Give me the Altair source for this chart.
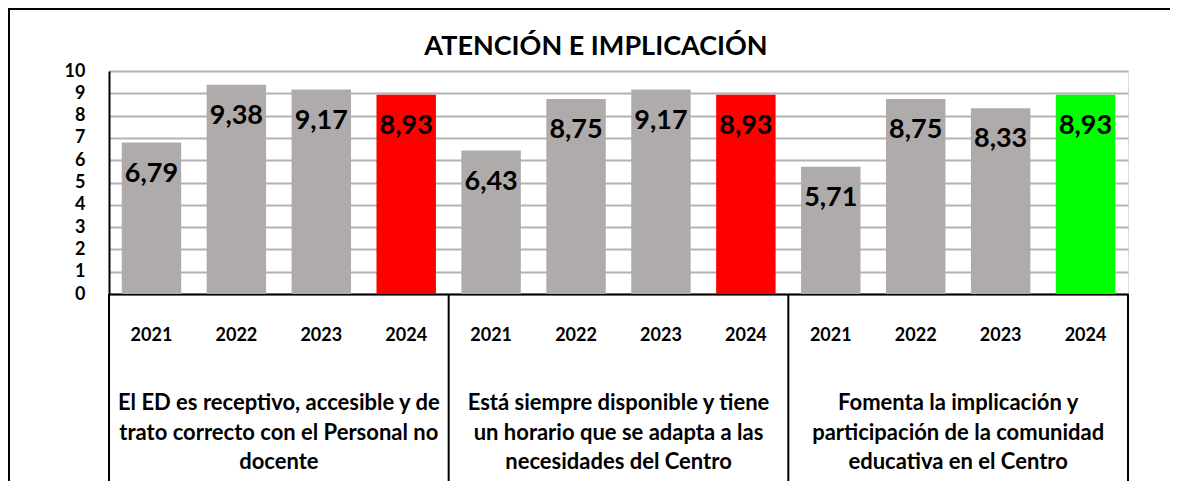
import altair as alt
import pandas as pd

# ---------------- data ----------------
chart_title = "ATENCIÓN E IMPLICACIÓN"
years = ["2021", "2022", "2023", "2024"]
groups = [
    "El ED es receptivo, accesible y de\ntrato correcto con el Personal no\ndocente",
    "Está siempre disponible y tiene\nun horario que se adapta a las\nnecesidades del Centro",
    "Fomenta la implicación y\nparticipación de la comunidad\neducativa en el Centro",
]
values_g1 = [6.79, 9.38, 9.17, 8.93]
values_g2 = [6.43, 8.75, 9.17, 8.93]
values_g3 = [5.71, 8.75, 8.33, 8.93]
status_2024 = ["rojo", "rojo", "verde"]
y_ticks = list(range(0, 11))

all_values = [values_g1, values_g2, values_g3]

# ---------------- layout ----------------
W, H = 1019, 223
PAD_L, PAD_T, PAD_R, PAD_B = 101, 63, 42, 187
FONT = "Lato"

rows = []
for gi, (g, vals) in enumerate(zip(groups, all_values)):
    for yr, v in zip(years, vals):
        rows.append({
            "key": f"{gi}|{yr}",
            "year": yr,
            "value": v,
            "estado": status_2024[gi] if yr == years[-1] else "anterior",
        })
df = pd.DataFrame(rows)
keys = list(df["key"])

# group boundaries and centres (in units of categories)
bounds, centers, labels = [0], [], []
start = 0
for g, vals in zip(groups, all_values):
    n = len(vals)
    centers.append(start + n / 2)
    labels.append(g)
    start += n
    bounds.append(start)
n_total = start

df_bounds = pd.DataFrame({"pos": bounds})
df_groups = pd.DataFrame({"pos": centers, "label": labels})

x_band = alt.X(
    "key:N",
    sort=keys,
    scale=alt.Scale(paddingInner=0.3, paddingOuter=0.15),
    axis=alt.Axis(
        title=None,
        labelExpr="split(datum.value, '|')[1]",
        labelAngle=0,
        labelFont=FONT,
        labelFontSize=18,
        labelFontWeight="bold",
        labelColor="black",
        labelPadding=32,
        ticks=False,
        domainColor="black",
        domainWidth=2,
        grid=False,
    ),
)
y_lin = alt.Y(
    "value:Q",
    scale=alt.Scale(domain=[0, 10]),
    axis=alt.Axis(
        title=None,
        values=y_ticks,
        labelOverlap=False,
        labelFont=FONT,
        labelFontSize=18,
        labelFontWeight="bold",
        labelColor="black",
        labelPadding=24,
        ticks=False,
        domainColor="black",
        domainWidth=2,
        gridColor="#b3b3b3",
        gridWidth=2,
    ),
)

bars = alt.Chart(df).mark_bar().encode(
    x=x_band,
    y=y_lin,
    color=alt.Color(
        "estado:N",
        scale=alt.Scale(domain=["anterior", "rojo", "verde"],
                        range=["#afabab", "#ff0000", "#00ff00"]),
        legend=None,
    ),
)

texts = alt.Chart(df).transform_calculate(
    lbl="replace(format(datum.value, '.2f'), '.', ',')"
).mark_text(
    font=FONT, fontSize=27, fontWeight="bold", color="black",
    baseline="middle", dy=31,
).encode(
    x=x_band,
    y=y_lin,
    text="lbl:N",
)

main = alt.layer(bars, texts)

qx = alt.Scale(domain=[0, n_total])

separators = alt.Chart(df_bounds).mark_rule(color="black", strokeWidth=2).encode(
    x=alt.X("pos:Q", scale=qx, axis=None),
    y=alt.value(H),
    y2=alt.value(H + PAD_B),
)

group_text = alt.Chart(df_groups).transform_calculate(
    lines="split(datum.label, '\\n')"
).mark_text(
    font=FONT, fontSize=22, fontWeight="bold", color="black",
    baseline="middle", align="center", lineHeight=29.5,
).encode(
    x=alt.X("pos:Q", scale=qx, axis=None),
    y=alt.value(332),
    text="lines:N",
)

title_df = pd.DataFrame({"t": [chart_title]})
title_text = alt.Chart(title_df).mark_text(
    font=FONT, fontSize=27, fontWeight="bold", color="black",
    baseline="middle", align="center",
).encode(
    x=alt.value(487),
    y=alt.value(-24),
    text="t:N",
)

frame_df = pd.DataFrame({"d": [0]})
frame_top = alt.Chart(frame_df).mark_rule(color="black", strokeWidth=2).encode(
    x=alt.value(-PAD_L),
    x2=alt.value(W + PAD_R),
    y=alt.value(-PAD_T + 1),
)
frame_left = alt.Chart(frame_df).mark_rule(color="black", strokeWidth=2).encode(
    x=alt.value(-PAD_L + 1),
    y=alt.value(-PAD_T),
    y2=alt.value(H + PAD_B),
)

chart = alt.layer(
    main, separators, group_text, title_text, frame_top, frame_left
).resolve_scale(
    x="independent"
).properties(
    width=W,
    height=H,
    padding={"left": PAD_L, "top": PAD_T, "right": PAD_R, "bottom": PAD_B},
    autosize=alt.AutoSizeParams(type="none"),
).configure_view(stroke=None).configure(background="white")

chart.save("out.html", embed_options={"renderer": "svg", "actions": False})
